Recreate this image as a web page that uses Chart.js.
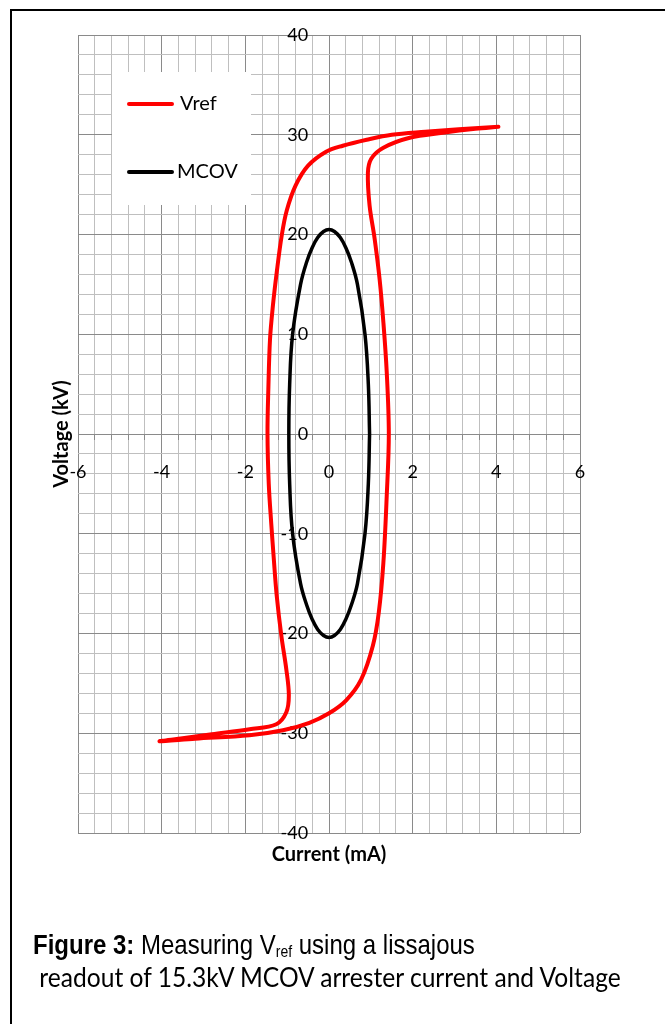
<!DOCTYPE html>
<html>
<head>
<meta charset="utf-8">
<title>Vref lissajous</title>
<script src="https://cdn.jsdelivr.net/npm/chart.js@4.4.1/dist/chart.umd.min.js"></script>
<style>
    html, body { margin: 0; padding: 0; background: #fff; overflow: hidden; }
    #page { position: relative; width: 665px; height: 1024px; overflow: hidden; }
    #frame { position: absolute; left: 10px; top: 9px; width: 720px; height: 1100px; border: 2px solid #000; box-sizing: border-box; }
    #chart { position: absolute; left: 0; top: 0; }
    .caption { position: absolute; left: 33px; white-space: nowrap; color: #000; transform: scaleY(1.12); transform-origin: left center; }
    #cap1 { top: 931px; font-family: "Liberation Sans", Arial, sans-serif; font-size: 24px; }
    #cap1 sub { font-size: 14px; vertical-align: -3px; }
    #cap2 { top: 962px; font-family: Lato, Carlito, sans-serif; font-size: 24.6px; }
</style>
</head>
<body>
<div id="page">
    <div id="frame"></div>
    <canvas id="chart" width="665" height="1024"></canvas>
    <div class="caption" id="cap1"><b>Figure 3:</b> Measuring V<sub>ref</sub> using a lissajous</div>
    <div class="caption" id="cap2">&nbsp;readout of 15.3kV MCOV arrester current and Voltage</div>
</div>
<script>
// series names
const seriesNames = ['Vref', 'MCOV'];

// Vref loop, current (mA) / voltage (kV)
const vrefCurrent = [4.05, 3.1, 2.3, 1.5, 0.9, 0.33, -0.07, -0.5, -0.8, -1.01, -1.13, -1.25, -1.34, -1.41, -1.45,
    -1.47, -1.44, -1.38, -1.32, -1.25, -1.14, -1.02, -0.96, -1.02, -1.26, -1.9, -2.8, -3.5, -4.05,
    -3.2, -1.9, -1.1, -0.47, 0.0, 0.41, 0.77, 1.05, 1.19, 1.3, 1.38, 1.43,
    1.38, 1.3, 1.21, 1.09, 0.97, 0.93, 1.01, 1.3, 1.93, 2.72, 3.5, 4.05];
const vrefVoltage = [30.8, 30.55, 30.3, 30.0, 29.5, 28.9, 28.3, 26.9, 24.9, 22.4, 19.9, 16.2, 12.9, 9.5, 4.5,
    0, -5, -9, -12.5, -16.2, -20.2, -23.6, -26.2, -27.9, -29.1, -29.6, -30.1, -30.5, -30.8,
    -30.55, -30.2, -29.7, -28.95, -28.0, -26.7, -24.6, -21.2, -17.9, -12.9, -6.2, 0,
    6.2, 11.2, 15.5, 19.6, 22.9, 26.2, 27.6, 28.7, 29.7, 30.2, 30.6, 30.8];

// MCOV ellipse, starting from its right side
const mcovCurrent = [0.97, 0.94, 0.86, 0.68, 0.53, 0.4, 0.27, 0.13, 0.0,
    -0.13, -0.27, -0.4, -0.53, -0.68, -0.87, -0.94, -0.96,
    -0.94, -0.87, -0.68, -0.53, -0.4, -0.27, -0.13, 0.0,
    0.13, 0.27, 0.4, 0.53, 0.68, 0.86, 0.94, 0.97];
const mcovVoltage = [0, -5, -10, -15, -17.2, -18.6, -19.6, -20.2, -20.4,
    -20.2, -19.6, -18.6, -17.2, -15, -10, -5, 0,
    5, 10, 15, 17.3, 18.7, 19.7, 20.3, 20.5,
    20.3, 19.7, 18.7, 17.3, 15, 10, 5, 0];

// axis tick labels
const xTickLabels = [-6, -4, -2, 0, 2, 4, 6];
const yTickLabels = [-40, -30, -20, -10, 0, 10, 20, 30, 40];

const minorGrid = '#bfbfbf';
const majorGrid = '#8a8a8a';

function toPoints(xs, ys) {
    return xs.map((x, i) => ({ x: x, y: ys[i] }));
}

function isLabelled(value, list) {
    return list.some(v => Math.abs(v - value) < 1e-6);
}

/**
 * Legend box inside the plot and the two axis titles
 */
const overlayPlugin = {
    id: 'overlay',
    beforeDatasetsDraw(chart) {
        const { ctx, chartArea } = chart;
        const bx = chartArea.left + 34;
        const by = chartArea.top + 37;
        ctx.save();
        ctx.fillStyle = '#fff';
        ctx.fillRect(bx, by, 139, 133);
        ctx.font = '20px Lato';
        ctx.textBaseline = 'middle';
        ctx.textAlign = 'left';
        chart.data.datasets.forEach((ds, i) => {
            const ly = by + 32 + i * 68;
            ctx.strokeStyle = ds.borderColor;
            ctx.lineWidth = 4;
            ctx.lineCap = 'round';
            ctx.beginPath();
            ctx.moveTo(bx + 17, ly);
            ctx.lineTo(bx + 60, ly);
            ctx.stroke();
            ctx.fillStyle = '#000';
            ctx.fillText(ds.label, bx + (i === 0 ? 68 : 65), ly);
        });
        ctx.restore();
    },
    afterDraw(chart) {
        const { ctx, chartArea, scales } = chart;
        ctx.save();
        ctx.fillStyle = '#000';
        ctx.font = 'bold 20px Lato';
        ctx.textAlign = 'center';
        ctx.textBaseline = 'middle';
        ctx.fillText('Current (mA)', scales.x.getPixelForValue(0), chartArea.bottom + 22);
        ctx.translate(chartArea.left - 16, scales.y.getPixelForValue(0));
        ctx.rotate(-Math.PI / 2);
        ctx.fillText('Voltage (kV)', 0, 0);
        ctx.restore();
    }
};

document.addEventListener('DOMContentLoaded', function() {
    const ctx = document.getElementById('chart');

    const config = {
        type: 'scatter',
        data: {
            datasets: [{
                label: seriesNames[0],
                data: toPoints(vrefCurrent, vrefVoltage),
                borderColor: '#ff0000',
                borderWidth: 4,
                showLine: true,
                tension: 0.35,
                pointRadius: 0,
                borderCapStyle: 'round',
                borderJoinStyle: 'round'
            }, {
                label: seriesNames[1],
                data: toPoints(mcovCurrent, mcovVoltage),
                borderColor: '#000000',
                borderWidth: 3.5,
                showLine: true,
                tension: 0.4,
                pointRadius: 0,
                borderCapStyle: 'round',
                borderJoinStyle: 'round'
            }]
        },
        options: {
            responsive: false,
            animation: false,
            devicePixelRatio: 1,
            layout: {
                padding: { left: 78, top: 35, right: 85, bottom: 191 }
            },
            plugins: {
                legend: { display: false },
                tooltip: { enabled: false }
            },
            scales: {
                x: {
                    type: 'linear',
                    position: { y: 0 },
                    min: -6,
                    max: 6,
                    border: { color: majorGrid, width: 1 },
                    grid: {
                        color: c => isLabelled(c.tick.value, xTickLabels) ? majorGrid : minorGrid,
                        tickColor: majorGrid,
                        tickLength: 5
                    },
                    ticks: {
                        stepSize: 0.4,
                        autoSkip: false,
                        maxRotation: 0,
                        padding: 22,
                        color: '#000',
                        font: { family: 'Lato', size: 18 },
                        callback: function(value) {
                            return isLabelled(value, xTickLabels) ? String(Math.round(value)) : '';
                        }
                    }
                },
                y: {
                    type: 'linear',
                    axis: 'y',
                    // labels sit about half a unit left of the x = 0 axis
                    position: { x: -0.5 },
                    min: -40,
                    max: 40,
                    border: { display: false },
                    grid: {
                        color: c => isLabelled(c.tick.value, yTickLabels) ? majorGrid : minorGrid,
                        drawTicks: false
                    },
                    ticks: {
                        stepSize: 2,
                        autoSkip: false,
                        color: '#000',
                        font: { family: 'Lato', size: 18 },
                        callback: function(value) {
                            return isLabelled(value, yTickLabels) ? String(Math.round(value)) : '';
                        }
                    }
                }
            }
        },
        plugins: [overlayPlugin]
    };

    new Chart(ctx, config);
});
</script>
</body>
</html>
